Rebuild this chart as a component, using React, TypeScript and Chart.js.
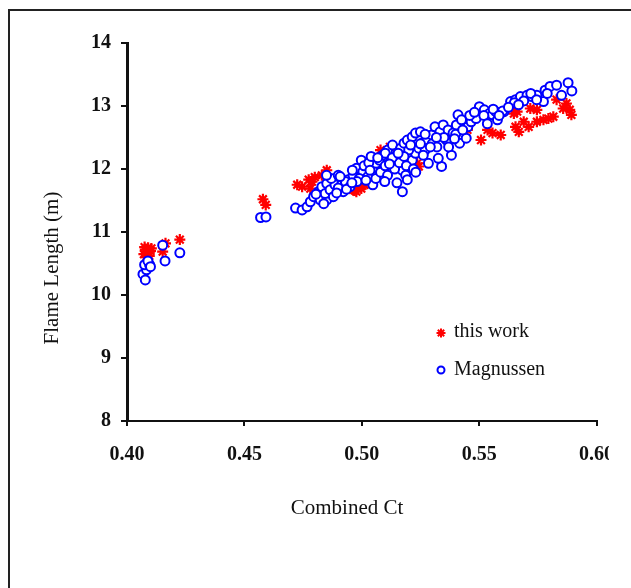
import React, { useEffect, useRef } from "react";
import { Chart, registerables } from "chart.js";

Chart.register(...registerables);

const xTickValues = [0.4, 0.45, 0.5, 0.55, 0.6];
const yTickValues = [8, 9, 10, 11, 12, 13, 14];
const xTitle = "Combined Ct";
const yTitle = "Flame Length (m)";
const seriesNames = ["this work", "Magnussen"];

const thisWorkCt = [
  0.4072, 0.4078, 0.4085, 0.409, 0.4095, 0.41, 0.4082, 0.4075, 0.4093, 0.4088, 0.4104,
  0.4152, 0.4164, 0.4225, 0.4579, 0.4591,
  0.4725, 0.4746, 0.4774, 0.4788, 0.4781, 0.48, 0.4851, 0.483,
  0.4963, 0.4977, 0.4998, 0.5012, 0.4984, 0.497,
  0.5243, 0.5236, 0.508, 0.512, 0.528, 0.538, 0.54, 0.545,
  0.5508, 0.5536, 0.5557, 0.5592,
  0.5648, 0.5662, 0.5655, 0.5669, 0.569, 0.5711, 0.5718, 0.5746, 0.5746, 0.5774, 0.5795,
  0.5816, 0.583, 0.5858, 0.5886, 0.5893, 0.5872,
];
const thisWorkLength = [
  10.65, 10.72, 10.68, 10.75, 10.62, 10.7, 10.6, 10.76, 10.66, 10.73, 10.74,
  10.69, 10.82, 10.88, 11.52, 11.43,
  11.75, 11.72, 11.83, 11.8, 11.69, 11.87, 11.98, 11.9,
  11.67, 11.64, 11.69, 11.75, 11.71, 11.66,
  12.04, 12.09, 12.3, 12.35, 12.5, 12.55, 12.58, 12.62,
  12.46, 12.62, 12.57, 12.54,
  12.88, 12.91, 12.67, 12.59, 12.75, 12.67, 12.96, 12.94, 12.75, 12.78, 12.8,
  12.83, 13.1, 12.96, 12.94, 12.86, 13.04,
];

const magnussenCt = [
  0.4068, 0.4078, 0.4083, 0.4075, 0.4096, 0.4089, 0.41, 0.4152, 0.4162, 0.4225, 0.4569, 0.4592,
  0.4718, 0.4746, 0.4767, 0.4781, 0.4795, 0.4816, 0.483, 0.4851, 0.4823, 0.4851, 0.4844, 0.4865,
  0.4886, 0.4879, 0.4914, 0.4921, 0.4942, 0.4963, 0.4977, 0.4998, 0.5005, 0.5026, 0.5047, 0.5061,
  0.5047, 0.5075, 0.5089, 0.511, 0.5131, 0.5124, 0.5145, 0.5166, 0.518, 0.5194, 0.5215, 0.5229,
  0.525, 0.5173, 0.5187, 0.5194, 0.5173, 0.5201, 0.5215, 0.5229, 0.5243, 0.5257, 0.5277, 0.5298,
  0.5312, 0.5333, 0.5347, 0.5368, 0.5382, 0.534, 0.5326, 0.5284, 0.527, 0.5361, 0.5389, 0.5403,
  0.541, 0.5417, 0.5445, 0.5452, 0.5466, 0.5487, 0.5501, 0.5522, 0.5543, 0.5557, 0.5578, 0.5571,
  0.5606, 0.5634, 0.5655, 0.5676, 0.5704, 0.5725, 0.5746, 0.5774, 0.5781, 0.5802, 0.583, 0.5851,
  0.5879, 0.5895,
  0.49, 0.493, 0.495, 0.499, 0.501, 0.503, 0.506, 0.508, 0.51, 0.511, 0.514, 0.516, 0.52, 0.518,
  0.525, 0.527, 0.53, 0.532, 0.535, 0.537, 0.54, 0.543, 0.546, 0.548, 0.552, 0.556, 0.56, 0.565,
  0.569, 0.572, 0.496, 0.498, 0.504, 0.51, 0.513, 0.519, 0.522, 0.515, 0.523, 0.487, 0.49, 0.485,
  0.4805, 0.4838, 0.4893, 0.4908, 0.4935, 0.4958, 0.5018, 0.5035, 0.5068, 0.5098, 0.5118, 0.5155,
  0.5208, 0.5262, 0.5292, 0.5318, 0.5395, 0.5425, 0.5535, 0.5585, 0.5625, 0.5668, 0.5745, 0.579,
];
const magnussenLength = [
  10.33, 10.24, 10.4, 10.48, 10.48, 10.54, 10.45, 10.79, 10.54, 10.67, 11.23, 11.24,
  11.38, 11.35, 11.4, 11.48, 11.56, 11.64, 11.72, 11.77, 11.51, 11.51, 11.61, 11.67,
  11.75, 11.56, 11.75, 11.64, 11.83, 11.9, 12.01, 12.14, 11.96, 11.88, 12.01, 12.09,
  11.75, 12.14, 12.22, 12.3, 12.38, 12.14, 12.2, 12.33, 12.41, 12.46, 12.51, 12.57,
  12.59, 11.98, 11.9, 11.83, 11.64, 12.06, 12.14, 12.25, 12.33, 12.41, 12.46, 12.54,
  12.67, 12.59, 12.7, 12.62, 12.22, 12.04, 12.17, 12.09, 12.3, 12.46, 12.57, 12.7,
  12.86, 12.41, 12.49, 12.67, 12.75, 12.8, 12.99, 12.94, 12.88, 12.86, 12.78, 12.91,
  12.91, 13.07, 13.1, 13.15, 13.17, 13.15, 13.17, 13.07, 13.25, 13.31, 13.33, 13.17,
  13.37, 13.24,
  11.7, 11.8, 11.72, 11.85, 12.05, 12.1, 11.85, 11.95, 12.05, 11.9, 12.0, 12.1, 12.3, 12.2,
  12.4, 12.55, 12.4, 12.35, 12.5, 12.35, 12.55, 12.62, 12.85, 12.9, 12.85, 12.95, 12.92, 13.05,
  13.08, 13.2, 11.98, 11.8, 12.2, 12.25, 12.18, 12.05, 12.0, 11.78, 11.95, 11.85, 11.9, 11.9,
  11.6, 11.45, 11.62, 11.88, 11.68, 11.78, 11.82, 11.98, 12.18, 11.8, 12.08, 12.25,
  12.38, 12.22, 12.35, 12.5, 12.48, 12.78, 12.72, 12.85, 12.98, 13.02, 13.1, 13.2,
];

const SERIF = '"Liberation Serif", "Times New Roman", serif';

const decorPlugin = {
  id: "decor",
  afterDraw(chart: any) {
    const ctx = chart.ctx as CanvasRenderingContext2D;
    ctx.save();
    // the reference image is cut just after the last tick label's "6"
    ctx.fillStyle = "#ffffff";
    ctx.fillRect(609, 432, 22, 40);

    // axis titles
    ctx.fillStyle = "#111";
    ctx.font = `21px ${SERIF}`;
    ctx.textAlign = "center";
    ctx.textBaseline = "middle";
    ctx.fillText(xTitle, 347, 508);
    ctx.save();
    ctx.translate(52, 268);
    ctx.rotate(-Math.PI / 2);
    ctx.fillText(yTitle, 0, 0);
    ctx.restore();

    // legend
    ctx.font = `20px ${SERIF}`;
    ctx.textAlign = "left";
    ctx.fillText(seriesNames[0], 454, 332);
    ctx.fillText(seriesNames[1], 454, 370);
    ctx.strokeStyle = "#ff0000";
    ctx.lineWidth = 2;
    const cx = 441, cy = 333, r = 4.5;
    ctx.beginPath();
    for (let k = 0; k < 4; k++) {
      const a = (k * Math.PI) / 4;
      ctx.moveTo(cx - r * Math.cos(a), cy - r * Math.sin(a));
      ctx.lineTo(cx + r * Math.cos(a), cy + r * Math.sin(a));
    }
    ctx.stroke();
    ctx.strokeStyle = "#0000ff";
    ctx.beginPath();
    ctx.arc(441, 370, 3.5, 0, Math.PI * 2);
    ctx.stroke();

    // frame
    ctx.strokeStyle = "#222";
    ctx.lineWidth = 2;
    ctx.beginPath();
    ctx.moveTo(9, 588);
    ctx.lineTo(9, 10);
    ctx.lineTo(631, 10);
    ctx.stroke();
    ctx.restore();
  },
};

export default function App() {
  const ref = useRef<HTMLCanvasElement | null>(null);
  useEffect(() => {
    if (!ref.current) return;
    const red = thisWorkCt.map((x, i) => ({ x, y: thisWorkLength[i] }));
    const blue = magnussenCt.map((x, i) => ({ x, y: magnussenLength[i] }));
    const chart = new Chart(ref.current, {
      type: "scatter",
      data: {
        datasets: [
          {
            label: seriesNames[1],
            data: blue,
            pointStyle: "circle",
            pointRadius: 4.5,
            borderColor: "#0000ff",
            backgroundColor: "#ffffff",
            borderWidth: 2,
            order: 0,
          },
          {
            label: seriesNames[0],
            data: red,
            pointStyle: "star",
            pointRadius: 5.5,
            borderColor: "#ff0000",
            backgroundColor: "#ff0000",
            borderWidth: 2.2,
            order: 1,
          },
        ],
      },
      options: {
        responsive: false,
        animation: false,
        events: [],
        layout: { padding: { left: 0, top: 43, right: 27, bottom: 0 } },
        plugins: { legend: { display: false }, tooltip: { enabled: false } },
        scales: {
          x: {
            type: "linear",
            min: 0.4,
            max: 0.6,
            afterBuildTicks: (s: any) => {
              s.ticks = xTickValues.map((v) => ({ value: v }));
            },
            afterFit: (s: any) => {
              s.height = 167;
            },
            ticks: {
              autoSkip: false,
              maxRotation: 0,
              padding: 17,
              color: "#111",
              font: { family: SERIF, size: 20, weight: "bold" },
              callback: (v: any) => Number(v).toFixed(2),
            },
            grid: { drawOnChartArea: false, tickLength: 5, color: "#111", lineWidth: 2 },
            border: { color: "#111", width: 2 },
          },
          y: {
            type: "linear",
            min: 8,
            max: 14,
            afterBuildTicks: (s: any) => {
              s.ticks = yTickValues.map((v) => ({ value: v }));
            },
            afterFit: (s: any) => {
              s.width = 127;
            },
            ticks: {
              autoSkip: false,
              padding: 10,
              color: "#111",
              font: { family: SERIF, size: 20, weight: "bold" },
              callback: (v: any) => String(v),
            },
            grid: { drawOnChartArea: false, tickLength: 6, color: "#111", lineWidth: 2 },
            border: { color: "#111", width: 3 },
          },
        },
      },
      plugins: [decorPlugin],
    });
    return () => chart.destroy();
  }, []);
  return (
    <div style={{ position: "absolute", left: 0, top: 0, width: 631, height: 588, background: "#fff" }}>
      <canvas ref={ref} width={631} height={588} style={{ width: 631, height: 588, display: "block" }} />
    </div>
  );
}
